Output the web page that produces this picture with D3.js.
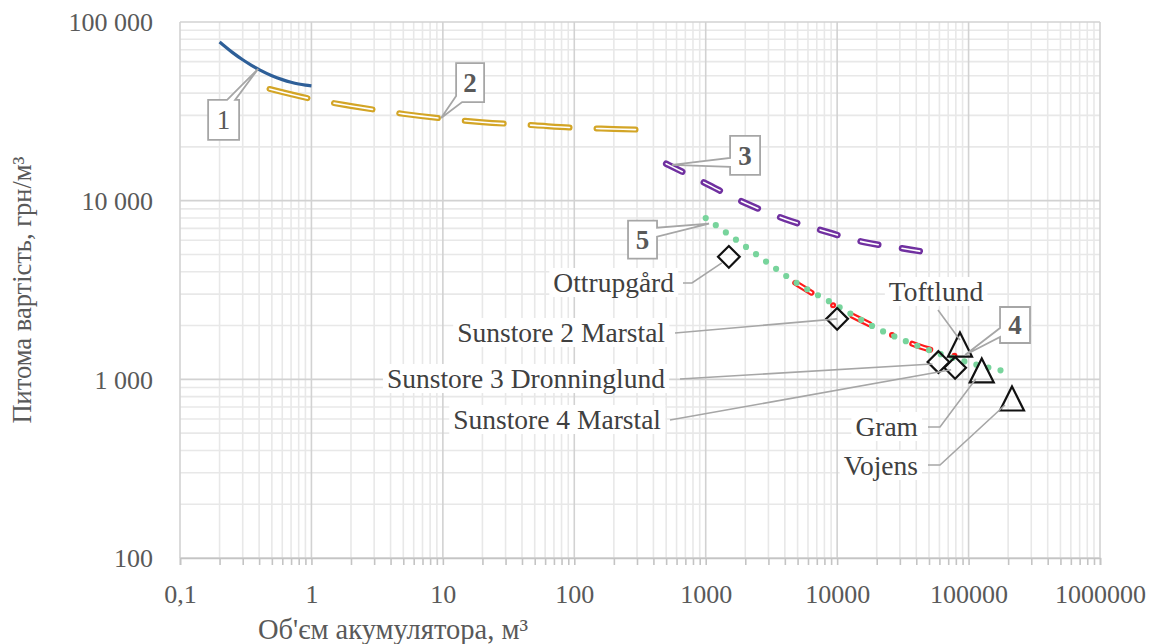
<!DOCTYPE html>
<html>
<head>
<meta charset="utf-8">
<script src="https://cdn.jsdelivr.net/npm/d3@7"></script>
<style>
  html, body { margin: 0; padding: 0; background: #ffffff; }
  svg { display: block; }
  text { font-family: "Liberation Serif", "Times New Roman", serif; }
</style>
</head>
<body>
<svg id="chart" width="1156" height="644"></svg>
<script>
// ---------------- DATA ----------------
const xTickValues = [0.1, 1, 10, 100, 1000, 10000, 100000, 1000000];
const xTickLabels = ["0,1", "1", "10", "100", "1000", "10000", "100000", "1000000"];
const yTickValues = [100, 1000, 10000, 100000];
const yTickLabels = ["100", "1 000", "10 000", "100 000"];

const xTitle = "Об'єм акумулятора, м³";
const yTitle = "Питома вартість, грн/м³";

// Series 1 (blue, solid)
const s1X = [0.2, 0.25, 0.3, 0.35, 0.4, 0.5, 0.6, 0.7, 0.8, 0.9, 1];
const s1Y = [77300, 67600, 61450, 57200, 54150, 50050, 47590, 46000, 44990, 44360, 43950];
// Series 2 (gold, double dashed)
const s2X = [0.48, 1, 2, 5, 10, 20, 50, 100, 200, 350];
const s2Y = [42200, 37100, 33900, 30600, 28800, 27500, 26400, 25600, 25200, 24900];
// Series 3 (purple, double dashed)
const s3X = [500, 1000, 2000, 4000, 8000, 16000, 30000, 46000];
const s3Y = [16100, 12500, 9700, 7900, 6750, 5860, 5440, 5170];
// Series 4 (red, double dash-dot)
const s4X = [4800, 10000, 20000, 40000, 83000];
const s4Y = [3470, 2520, 1945, 1552, 1340];
// Series 5 (green, dotted)
const s5X = [1000, 2000, 5000, 10000, 20000, 40000, 100000, 200000];
const s5Y = [8000, 5550, 3440, 2580, 1930, 1550, 1240, 1100];

// Projects (diamonds)
const diamondNames = ["Ottrupgård", "Sunstore 2 Marstal", "Sunstore 3 Dronninglund", "Sunstore 4 Marstal"];
const diamondX = [1500, 10000, 59000, 79000];
const diamondY = [4850, 2180, 1250, 1160];
// Projects (triangles)
const triangleNames = ["Toftlund", "Gram", "Vojens"];
const triangleX = [86000, 126000, 214000];
const triangleY = [1555, 1114, 776];

// Numbered callouts: label and the point they point to (data coords)
const calloutLabels = ["1", "2", "3", "4", "5"];
const calloutTipX = [0.393, 9.7, 555, 94000, 1060];
const calloutTipY = [54600, 29000, 15850, 1368, 7430];

// ---------------- LAYOUT ----------------
const plot = { left: 180, right: 1100, top: 22, bottom: 558 };
const FONT = "'Liberation Serif', 'Times New Roman', serif";
const TEXT_COLOR = "#595959";
const LABEL_COLOR = "#404040";
const LEADER_COLOR = "#a6a6a6";

const svg = d3.select("#chart");

const x = d3.scaleLog().domain([0.1, 1e6]).range([plot.left, plot.right]);
const y = d3.scaleLog().domain([100, 1e5]).range([plot.bottom, plot.top]);

// ---------------- GRID ----------------
const minorX = [], minorY = [];
for (let e = -1; e < 6; e++) for (let m = 2; m <= 9; m++) minorX.push(m * Math.pow(10, e));
for (let e = 2; e < 5; e++) for (let m = 2; m <= 9; m++) minorY.push(m * Math.pow(10, e));

const grid = svg.append("g");
grid.selectAll("line.mx").data(minorX).join("line")
  .attr("x1", d => x(d)).attr("x2", d => x(d))
  .attr("y1", plot.top).attr("y2", plot.bottom)
  .attr("stroke", "#e8e8e8").attr("stroke-width", 1.6);
grid.selectAll("line.my").data(minorY).join("line")
  .attr("x1", plot.left).attr("x2", plot.right)
  .attr("y1", d => y(d)).attr("y2", d => y(d))
  .attr("stroke", "#e8e8e8").attr("stroke-width", 1.6);
grid.selectAll("line.Mx").data(xTickValues).join("line")
  .attr("x1", d => x(d)).attr("x2", d => x(d))
  .attr("y1", plot.top).attr("y2", plot.bottom)
  .attr("stroke", "#d2d2d2").attr("stroke-width", 1.6);
grid.selectAll("line.My").data(yTickValues).join("line")
  .attr("x1", plot.left).attr("x2", plot.right)
  .attr("y1", d => y(d)).attr("y2", d => y(d))
  .attr("stroke", "#d2d2d2").attr("stroke-width", 1.6);

// ---------------- AXES ----------------
const xAxis = d3.axisBottom(x)
  .tickValues(minorX.concat(xTickValues))
  .tickSize(7)
  .tickFormat(d => { const i = xTickValues.indexOf(d); return i >= 0 ? xTickLabels[i] : ""; });
const gx = svg.append("g").attr("transform", `translate(0,${plot.bottom})`).call(xAxis);
gx.select(".domain").attr("stroke", "#c4c4c4").attr("stroke-width", 1.6);
gx.selectAll(".tick line").attr("stroke", "#c4c4c4").attr("stroke-width", 1.6);
gx.selectAll(".tick text")
  .attr("font-family", FONT).attr("font-size", 26).attr("fill", TEXT_COLOR)
  .attr("y", 0).attr("dy", null).attr("transform", "translate(0,45)");

const yAxis = d3.axisLeft(y)
  .tickValues(yTickValues)
  .tickSize(0)
  .tickFormat(d => yTickLabels[yTickValues.indexOf(d)]);
const gy = svg.append("g").attr("transform", `translate(${plot.left},0)`).call(yAxis);
gy.select(".domain").remove();
gy.selectAll(".tick text")
  .attr("font-family", FONT).attr("font-size", 26).attr("fill", TEXT_COLOR)
  .attr("x", -27).attr("dy", "0.34em");

svg.append("text")
  .attr("x", 393).attr("y", 639)
  .attr("text-anchor", "middle")
  .attr("font-family", FONT).attr("font-size", 28.5).attr("fill", TEXT_COLOR)
  .text(xTitle);

svg.append("text")
  .attr("transform", "translate(31,290) rotate(-90)")
  .attr("text-anchor", "middle")
  .attr("font-family", FONT).attr("font-size", 26.5).attr("fill", TEXT_COLOR)
  .text(yTitle);

// ---------------- SERIES ----------------
const line = d3.line().x(d => x(d[0])).y(d => y(d[1])).curve(d3.curveMonotoneX);
const zip = (a, b) => a.map((v, i) => [v, b[i]]);

const series = svg.append("g").attr("fill", "none").attr("stroke-linecap", "round");

function doubleLine(xs, ys, color, dash, w) {
  const d = line(zip(xs, ys));
  series.append("path").attr("d", d).attr("stroke", color).attr("stroke-width", w)
    .attr("stroke-dasharray", dash);
  series.append("path").attr("d", d).attr("stroke", "#ffffff").attr("stroke-width", 1.6)
    .attr("stroke-dasharray", dash);
}

doubleLine(s2X, s2Y, "#d3a526", "39 27", 6);
series.append("path").attr("d", line(zip(s1X, s1Y)))
  .attr("stroke", "#2e5f98").attr("stroke-width", 3.2).attr("stroke-linecap", "butt");
doubleLine(s3X, s3Y, "#7030a0", "18 24", 6.5);
doubleLine(s4X, s4Y, "#ff1a1a", "19 25 0 22", 6);
series.append("path").attr("d", line(zip(s5X, s5Y)))
  .attr("stroke", "#78d49c").attr("stroke-width", 6.2)
  .attr("stroke-dasharray", "0 12.4");

// ---------------- MARKERS ----------------
const markers = svg.append("g").attr("fill", "none").attr("stroke", "#111").attr("stroke-width", 2.2);
markers.selectAll("path.dia").data(zip(diamondX, diamondY)).join("path")
  .attr("d", d3.symbol().type(d3.symbolDiamond2).size(300)())
  .attr("transform", d => `translate(${x(d[0])},${y(d[1])})`);
markers.selectAll("path.tri").data(zip(triangleX, triangleY)).join("path")
  .attr("d", "M0,-12.5L12,11.5L-12,11.5Z")
  .attr("transform", d => `translate(${x(d[0])},${y(d[1])})`);

// ---------------- DATA LABELS ----------------
const diamondLabelPos = [
  { tx: 674, ty: 292, lead: [[683, 283], [692, 283]], off: [-7, 6] },
  { tx: 665, ty: 342, lead: [[675, 333]], off: [0, 0] },
  { tx: 665, ty: 388, lead: [[680, 379]], off: [-6, 2] },
  { tx: 661, ty: 429, lead: [[670, 420]], off: [-4, 2] }
];
const triangleLabelPos = [
  { tx: 936, ty: 301, anchor: "middle", lead: [[938, 310]], off: [0, -5] },
  { tx: 918, ty: 436, anchor: "end", lead: [[928, 427], [940, 427]], off: [-6, 8] },
  { tx: 918, ty: 475, anchor: "end", lead: [[928, 465], [940, 465]], off: [-7, 6] }
];

const labels = svg.append("g");
function addLabel(name, px, py, pos) {
  const pts = pos.lead.concat([[px + pos.off[0], py + pos.off[1]]]);
  labels.append("path").attr("d", d3.line()(pts))
    .attr("fill", "none").attr("stroke", LEADER_COLOR).attr("stroke-width", 1.6);
  const bgRect = labels.append("rect").attr("fill", "#ffffff");
  const t = labels.append("text")
    .attr("x", pos.tx).attr("y", pos.ty)
    .attr("text-anchor", pos.anchor || "end")
    .attr("font-family", FONT).attr("font-size", 27.5).attr("fill", LABEL_COLOR)
    .text(name);
  const bb = t.node().getBBox();
  bgRect.attr("x", bb.x - 4).attr("y", bb.y + 1).attr("width", bb.width + 8).attr("height", bb.height - 2);
}
diamondNames.forEach((n, i) => addLabel(n, x(diamondX[i]), y(diamondY[i]), diamondLabelPos[i]));
triangleNames.forEach((n, i) => addLabel(n, x(triangleX[i]), y(triangleY[i]), triangleLabelPos[i]));

// ---------------- NUMBERED CALLOUTS ----------------
const calloutGeom = [
  { box: [-50, 31, -19, 71], base: [[-31, 31], [-23, 31]], side: "top", bold: false },
  { box: [15, -55, 43, -16], base: [[21, -16], [15, -22]], side: "corner", bold: true },
  { box: [58, -29, 88, 10], base: [[58, 2], [58, -7]], side: "left", bold: true },
  { box: [35, -48, 65, -12], base: [[35, -18], [35, -27]], side: "left", bold: true },
  { box: [-81, -3, -52, 35], base: [[-52, 13], [-52, 4]], side: "right", bold: true }
];

const callouts = svg.append("g");
calloutLabels.forEach((lab, i) => {
  const tx = x(calloutTipX[i]), ty = y(calloutTipY[i]);
  const g = calloutGeom[i];
  const [x0, y0, x1, y1] = g.box.map((v, k) => v + (k % 2 === 0 ? tx : ty));
  const b = g.base.map(p => [p[0] + tx, p[1] + ty]);
  let pts;
  if (g.side === "top") pts = [[x0, y0], b[0], [tx, ty], b[1], [x1, y0], [x1, y1], [x0, y1]];
  else if (g.side === "corner") pts = [[x0, y0], [x1, y0], [x1, y1], b[0], [tx, ty], b[1]];
  else if (g.side === "left") pts = [[x0, y0], [x1, y0], [x1, y1], [x0, y1], b[0], [tx, ty], b[1]];
  else pts = [[x0, y0], [x1, y0], b[1], [tx, ty], b[0], [x1, y1], [x0, y1]];
  callouts.append("path").attr("d", d3.line()(pts) + "Z")
    .attr("fill", "#ffffff").attr("stroke", LEADER_COLOR).attr("stroke-width", 1.8)
    .attr("stroke-linejoin", "miter");
  callouts.append("text")
    .attr("x", (x0 + x1) / 2).attr("y", (y0 + y1) / 2).attr("dy", "0.35em")
    .attr("text-anchor", "middle")
    .attr("font-family", FONT).attr("font-size", 27)
    .attr("font-weight", g.bold ? "bold" : "normal")
    .attr("fill", TEXT_COLOR).text(lab);
});
</script>
</body>
</html>
